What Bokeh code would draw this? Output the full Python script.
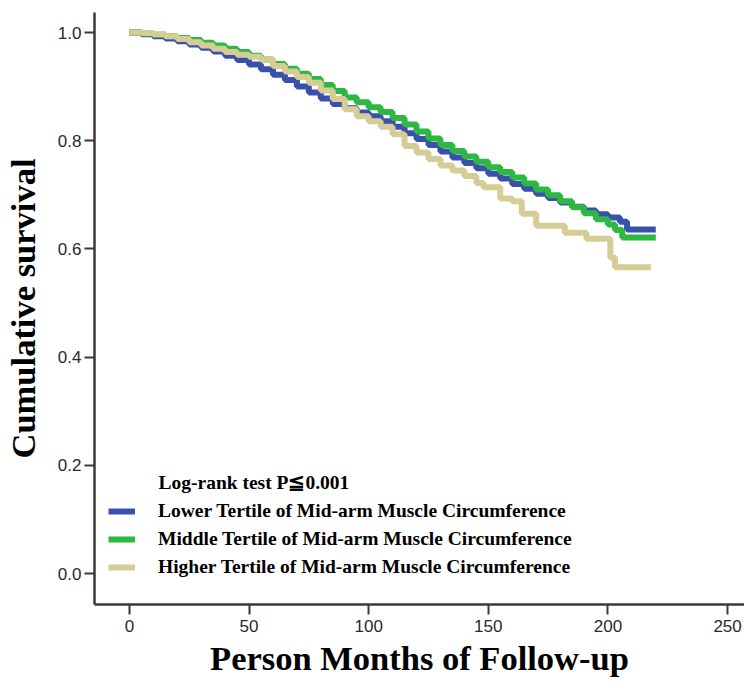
from bokeh.plotting import figure
from bokeh.models import Range1d, FixedTicker, PrintfTickFormatter, Legend, LegendItem, Label
from bokeh.embed import file_html
from bokeh.resources import INLINE

# ---- data ----
lower_x = [0, 5, 10, 15, 20, 25, 30, 35, 40, 45, 50, 55, 60, 65, 70, 75, 80, 85, 90, 95,
           100, 105, 110, 115, 120, 125, 130, 135, 140, 145, 150, 155, 160, 165, 170, 175,
           180, 185, 190, 195, 200, 205, 208, 220]
lower_y = [1.0, 0.997, 0.993, 0.989, 0.984, 0.978, 0.972, 0.965, 0.957, 0.949, 0.941, 0.932,
           0.922, 0.912, 0.900, 0.889, 0.878, 0.868, 0.860, 0.852, 0.845, 0.836, 0.826, 0.814,
           0.803, 0.792, 0.780, 0.769, 0.759, 0.749, 0.739, 0.730, 0.720, 0.711, 0.702, 0.694,
           0.686, 0.678, 0.671, 0.664, 0.658, 0.650, 0.636, 0.636]

middle_x = [0, 5, 10, 15, 20, 25, 30, 35, 40, 45, 50, 55, 60, 65, 70, 75, 80, 85, 90, 95,
            100, 105, 110, 115, 120, 125, 130, 135, 140, 145, 150, 155, 160, 165, 170, 175,
            180, 185, 190, 195, 200, 203, 206, 220]
middle_y = [1.0, 0.998, 0.996, 0.993, 0.990, 0.986, 0.981, 0.976, 0.970, 0.964, 0.957, 0.950,
            0.942, 0.933, 0.924, 0.914, 0.903, 0.892, 0.880, 0.871, 0.862, 0.853, 0.842, 0.830,
            0.817, 0.804, 0.792, 0.781, 0.771, 0.761, 0.751, 0.742, 0.732, 0.721, 0.710, 0.699,
            0.688, 0.677, 0.666, 0.655, 0.645, 0.635, 0.621, 0.621]

higher_x = [0, 5, 10, 15, 20, 25, 30, 35, 40, 45, 50, 55, 60, 65, 70, 75, 80, 85, 90, 95,
            100, 105, 110, 115, 120, 125, 130, 135, 140, 145, 148, 155, 160, 164, 170, 182,
            191, 201, 203, 218]
higher_y = [1.0, 0.999, 0.997, 0.993, 0.988, 0.982, 0.976, 0.970, 0.964, 0.959, 0.955, 0.950,
            0.938, 0.928, 0.918, 0.907, 0.893, 0.877, 0.858, 0.845, 0.836, 0.826, 0.812, 0.790,
            0.778, 0.766, 0.754, 0.745, 0.735, 0.722, 0.714, 0.693, 0.688, 0.665, 0.643, 0.630,
            0.619, 0.584, 0.566, 0.566]

series_labels = ["Lower Tertile of Mid-arm Muscle Circumference",
                 "Middle Tertile of Mid-arm Muscle Circumference",
                 "Higher Tertile of Mid-arm Muscle Circumference"]
series_colors = ["#3A50AD", "#2DB843", "#D5CD95"]
header_text = "Log-rank test P\u22660.001"

x_ticks = [0, 50, 100, 150, 200, 250]
y_ticks = [0.0, 0.2, 0.4, 0.6, 0.8, 1.0]

p = figure(width=744, height=694, output_backend="svg", toolbar_location=None,
           x_range=Range1d(-14.58, 257.08), y_range=Range1d(-0.0573, 1.037),
           min_border_left=92, min_border_right=0, min_border_top=12, min_border_bottom=90)
p.outline_line_color = None
p.xgrid.visible = False
p.ygrid.visible = False
p.background_fill_color = "white"

renderers = []
for xs, ys, col in [(lower_x, lower_y, series_colors[0]),
                    (middle_x, middle_y, series_colors[1]),
                    (higher_x, higher_y, series_colors[2])]:
    r = p.step(xs, ys, mode="after", line_width=6, line_color=col)
    renderers.append(r)

for ax in (p.xaxis[0], p.yaxis[0]):
    ax.axis_line_color = "#3a3a3a"
    ax.axis_line_width = 2.5
    ax.major_tick_line_color = "#3a3a3a"
    ax.major_tick_line_width = 2
    ax.major_tick_out = 10
    ax.major_tick_in = 0
    ax.minor_tick_line_color = None
    ax.major_label_text_font = "Liberation Sans"
    ax.major_label_text_font_size = "17px"
    ax.major_label_text_color = "#2a2a2a"
    ax.axis_label_text_font = "Liberation Serif"
    ax.axis_label_text_font_style = "bold"
    ax.axis_label_text_font_size = "34.5px"
    ax.axis_label_text_color = "black"

p.xaxis.ticker = FixedTicker(ticks=x_ticks)
p.yaxis.ticker = FixedTicker(ticks=y_ticks)
p.yaxis.formatter = PrintfTickFormatter(format="%.1f")
p.xaxis.axis_label = "Person Months of Follow-up"
p.yaxis.axis_label = "Cumulative survival"
p.xaxis.major_label_standoff = 5
p.yaxis.major_label_standoff = 3
p.xaxis.axis_label_standoff = 4
p.yaxis.axis_label_standoff = 13

legend = Legend(items=[LegendItem(label=lab, renderers=[r]) for lab, r in zip(series_labels, renderers)],
                location=(14, 26), padding=0, margin=0, spacing=6,
                glyph_width=27, glyph_height=14, label_height=20, label_standoff=23,
                label_text_font="Liberation Serif", label_text_font_style="bold",
                label_text_font_size="19.5px", label_text_color="black",
                background_fill_alpha=0, border_line_alpha=0)
p.add_layout(legend, "center")

hdr = Label(x=64, y=122, x_units="screen", y_units="screen", text=header_text,
            text_font="Liberation Serif", text_font_style="bold", text_font_size="19.5px",
            text_color="black", text_baseline="middle")
p.add_layout(hdr)

open("out.html", "w").write(file_html(p, INLINE))
